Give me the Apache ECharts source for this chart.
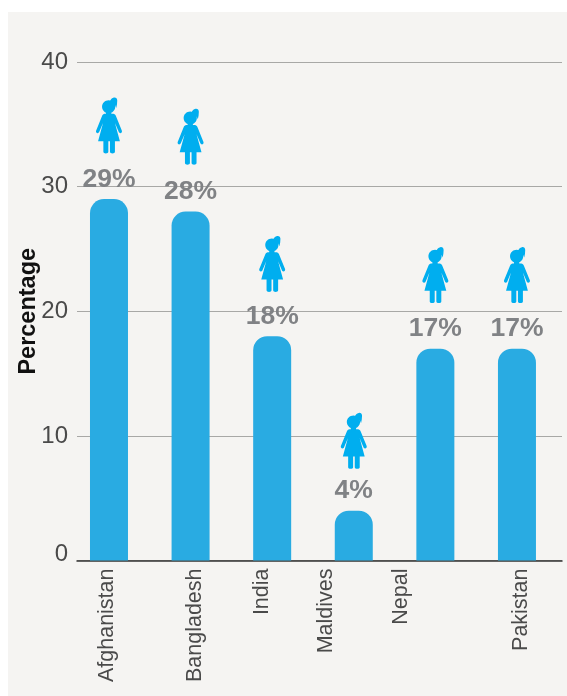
<!DOCTYPE html>
<html><head><meta charset="utf-8">
<style>html,body{margin:0;padding:0;background:#fff}#c{width:567px;height:696px}</style>
<script src="https://cdn.jsdelivr.net/npm/echarts@6/dist/echarts.min.js"></script>
</head><body><div id="c"></div>
<script>
const categories = ['Afghanistan','Bangladesh','India','Maldives','Nepal','Pakistan'];
const values = [29,28,18,4,17,17];
const iconLevels = [34.9,34.0,23.8,9.6,22.9,22.9];
const barSlots = [0,1,2,3,4,5];
const labelSlots = [-0.025,1.055,1.875,2.665,3.585,5.055];
const girl = 'path://M66 46 C66 35 75 26 86 26 C97 26 106 35 106 46 C106 57 97 66 86 66 C75 66 66 57 66 46 Z M90 30 C92 24 96 19 102 18 C108 17 112 21 112 27 C112 35 111 43 109 50 C107 44 105 40 102 37 C99 34 95 32 90 30 Z M78 60 L94 60 L94 74 L78 74 Z M74 68 L100 68 C104 68 106 71 108 75 L126 120 C128 127 120 130 117 125 L105 96 L120 152 L105 152 L105 185 C105 192 90 192 90 185 L90 152 L85 152 L85 185 C85 192 70 192 70 185 L70 152 L54 152 L69 96 L57 125 C54 130 46 127 48 120 L66 75 C68 71 70 68 74 68 Z';
const chart = echarts.init(document.getElementById('c'), null, {renderer:'canvas'});
chart.setOption({
  animation:false,
  backgroundColor:'#ffffff',
  graphic:[{type:'rect',z:-10,silent:true,shape:{x:8,y:12,width:559,height:684},style:{fill:'#f5f4f2'}}],
  grid:{left:77,right:5,top:62,bottom:135.5,containLabel:false,outerBoundsMode:'none'},
  xAxis:{type:'value',min:-0.392,max:5.552,
    axisLine:{show:true,onZero:false,lineStyle:{color:'#333',width:1.5}},
    axisTick:{show:false},splitLine:{show:false},
    axisLabel:{show:true,rotate:90,margin:8,fontFamily:'Liberation Sans',fontSize:21.5,color:'#4a4a4a',
      customValues:labelSlots,
      formatter:(v)=>categories[labelSlots.indexOf(v)]||''}},
  yAxis:{type:'value',min:0,max:40,interval:10,
    name:'Percentage',nameLocation:'middle',nameGap:36,nameMoveOverlap:false,
    nameTextStyle:{fontFamily:'Liberation Sans',fontSize:23.5,fontWeight:'bold',color:'#111'},
    axisLine:{show:false},axisTick:{show:false},
    splitLine:{show:true,lineStyle:{color:'#a8a8a6',width:1}},
    axisLabel:{margin:9,fontFamily:'Liberation Sans',fontSize:24,color:'#4a4a4a',
      formatter:(v)=>v===0?'{z|0}':String(v),
      rich:{z:{fontFamily:'Liberation Sans',fontSize:24,color:'#4a4a4a',padding:[0,0,13,0]}}}},
  series:[
    {type:'bar',barWidth:38,
     data:barSlots.map((s,i)=>[s,values[i]]),
     itemStyle:{color:'#29abe2',borderRadius:[14,14,0,0]},
     label:{show:true,position:'top',distance:6,formatter:(p)=>p.value[1]+'%',
       fontFamily:'Liberation Sans',fontSize:26.5,fontWeight:'bold',color:'#808285'}},
    {type:'scatter',symbol:girl,symbolSize:[26,56],silent:true,
     data:barSlots.map((s,i)=>[s,iconLevels[i]]),
     itemStyle:{color:'#00aeef',opacity:1},z:5}
  ]
});
</script></body></html>
